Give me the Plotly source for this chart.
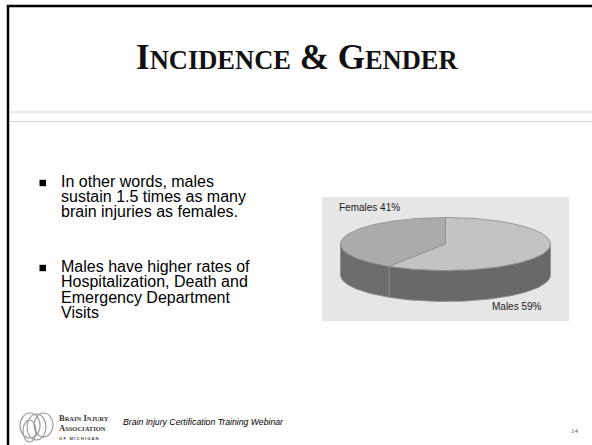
import numpy as np
import plotly.graph_objects as go

# ---- data ----
categories = ["Females", "Males"]
shares = [41, 59]  # percent
bullets = [
    ["In other words, males", "sustain 1.5 times as many", "brain injuries as females."],
    ["Males have higher rates of", "Hospitalization, Death and", "Emergency Department", "Visits"],
]
title_text = "Incidence & Gender"
footer_text = "Brain Injury Certification Training Webinar"
page_number = "14"

# ---- style / layout constants ----
W, H = 592, 445
top_colors = ["#ababab", "#c3c3c3"]
side_colors = ["#6c6c6c", "#696969"]
edge = "#8a8a8a"
cx, cy, rx, ry, depth = 445.5, 244.0, 105.0, 26.5, 31.0

fig = go.Figure()

def pt(theta, dy=0.0):
    return cx - rx * np.sin(theta), cy - ry * np.cos(theta) + dy

# slice angles from data (start at 12 o'clock, counterclockwise on screen)
total = float(sum(shares))
bounds = np.concatenate([[0.0], np.cumsum(shares) / total * 2 * np.pi])

# side faces (visible front half: theta in [pi/2, 3pi/2])
for i, cat in enumerate(categories):
    a0, a1 = bounds[i], bounds[i + 1]
    lo, hi = max(a0, np.pi / 2), min(a1, 3 * np.pi / 2)
    if hi <= lo:
        continue
    th = np.linspace(lo, hi, 80)
    xt, yt = pt(th)
    xb, yb = pt(th[::-1], depth)
    fig.add_trace(go.Scatter(
        x=np.concatenate([xt, xb, xt[:1]]), y=np.concatenate([yt, yb, yt[:1]]),
        mode="lines", fill="toself", fillcolor=side_colors[i],
        line=dict(color=edge, width=0.8), hoverinfo="skip", showlegend=False))

# top faces
for i, cat in enumerate(categories):
    a0, a1 = bounds[i], bounds[i + 1]
    th = np.linspace(a0, a1, 150)
    xa, ya = pt(th)
    fig.add_trace(go.Scatter(
        x=np.concatenate([[cx], xa, [cx]]), y=np.concatenate([[cy], ya, [cy]]),
        mode="lines", fill="toself", fillcolor=top_colors[i],
        line=dict(color=edge, width=0.8), hoverinfo="skip", showlegend=False,
        name=cat))

shapes = []
# slide borders
shapes.append(dict(type="line", x0=8, x1=8, y0=5, y1=H, line=dict(color="black", width=2.5), layer="above"))
shapes.append(dict(type="line", x0=7, x1=W, y0=6, y1=6, line=dict(color="black", width=2.5), layer="above"))
# rules under title
for yy in (112, 121.5):
    shapes.append(dict(type="line", x0=9, x1=W, y0=yy, y1=yy, line=dict(color="#d4d4d4", width=1)))
# chart panel
shapes.append(dict(type="rect", x0=322, x1=569, y0=197, y1=321, fillcolor="#e6e6e6", line=dict(width=0), layer="below"))
# bullet squares
for yy in (183, 268):
    shapes.append(dict(type="rect", x0=39.5, x1=46, y0=yy - 3.2, y1=yy + 3.2, fillcolor="black", line=dict(width=0)))
# logo swirl (approximation)
for (x0, x1, y0, y1) in [(20, 40, 413, 438), (27, 46, 414, 440), (34, 53, 413, 437), (23, 36, 420, 442)]:
    shapes.append(dict(type="circle", x0=x0, x1=x1, y0=y0, y1=y1, line=dict(color="#9a9a9a", width=1.2)))

ann = []
# title in small caps
def small_caps(s, small):
    out = []
    for word in s.split(" "):
        if word == "&":
            out.append("&amp;")
            continue
        out.append(word[0].upper() + "<span style='font-size:%spx'>%s</span>" % (small, word[1:].upper()))
    return " ".join(out)

ann.append(dict(x=297, y=57, text="<b>" + small_caps(title_text, 26.5) + "</b>", showarrow=False,
                xanchor="center", yanchor="middle",
                font=dict(family="Liberation Serif", size=35, color="#111111")))

# bullets
line_ys = [[181.5, 196.5, 211.5], [266.5, 281.5, 297, 312]]
for blines, ys in zip(bullets, line_ys):
    for t, yy in zip(blines, ys):
        ann.append(dict(x=59, y=yy, text=t, showarrow=False, xanchor="left", yanchor="middle",
                        font=dict(family="Liberation Sans", size=16, color="black")))

# pie labels
label_pos = [(337, 207), (490, 306)]
for cat, v, (lx, ly) in zip(categories, shares, label_pos):
    ann.append(dict(x=lx, y=ly, text=f"{cat} {v}%", showarrow=False, xanchor="left", yanchor="middle",
                    font=dict(family="Liberation Sans", size=10, color="#222222")))

# footer
ann.append(dict(x=121, y=422, text="<i>" + footer_text + "</i>", showarrow=False, xanchor="left", yanchor="middle",
                font=dict(family="Liberation Sans", size=8.7, color="black")))
ann.append(dict(x=575, y=430.5, text=page_number, showarrow=False, xanchor="center", yanchor="middle",
                font=dict(family="Liberation Serif", size=7, color="#555555")))
# logo text
ann.append(dict(x=57, y=418, text="<b>B<span style='font-size:6.5px'>RAIN</span> I<span style='font-size:6.5px'>NJURY</span></b>",
                showarrow=False, xanchor="left", yanchor="middle",
                font=dict(family="Liberation Serif", size=8.5, color="#333333")))
ann.append(dict(x=57, y=427.5, text="<b>A<span style='font-size:6.5px'>SSOCIATION</span></b>",
                showarrow=False, xanchor="left", yanchor="middle",
                font=dict(family="Liberation Serif", size=8.5, color="#333333")))
ann.append(dict(x=57, y=438.5, text="<b>O F   M I C H I G A N</b>",
                showarrow=False, xanchor="left", yanchor="middle",
                font=dict(family="Liberation Sans", size=4.2, color="#444444")))

fig.update_layout(
    width=W, height=H, margin=dict(l=0, r=0, t=0, b=0, pad=0),
    paper_bgcolor="white", plot_bgcolor="white",
    xaxis=dict(range=[0, W], visible=False, fixedrange=True),
    yaxis=dict(range=[H, 0], visible=False, fixedrange=True),
    shapes=shapes, annotations=ann, showlegend=False,
)
fig.write_html("out.html")
